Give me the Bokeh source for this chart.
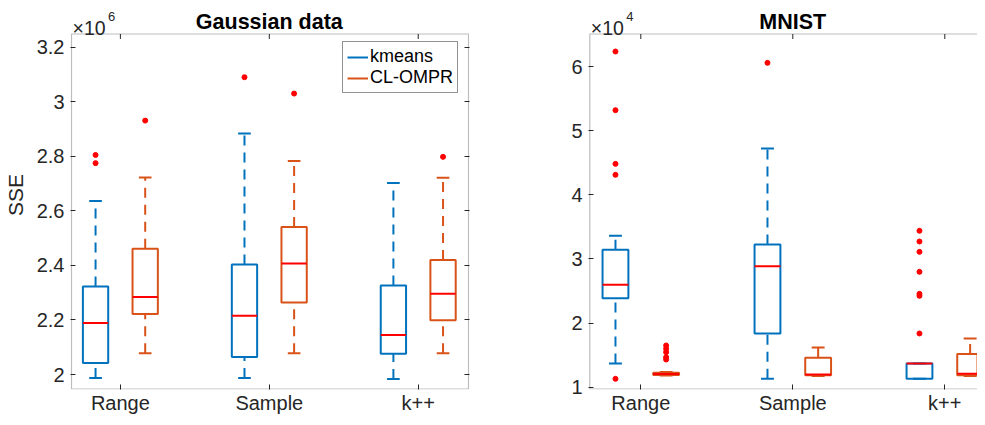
import math
from bokeh.plotting import figure
from bokeh.layouts import row
from bokeh.models import (ColumnDataSource, FixedTicker, LinearAxis, Range1d,
                          Label, Legend, LegendItem, BoxAnnotation)
from bokeh.transform import dodge
from bokeh.embed import file_html
from bokeh.resources import INLINE

# ---------------- data ----------------
GROUPS = ["Range", "Sample", "k++"]
GROUP_POS = [1, 2, 3]

# Gaussian data, SSE in units of 1e6
g_km_lo  = [1.987, 1.987, 1.984]
g_km_q1  = [2.042, 2.064, 2.076]
g_km_med = [2.189, 2.216, 2.145]
g_km_q3  = [2.323, 2.403, 2.326]
g_km_hi  = [2.636, 2.884, 2.702]
g_km_out_grp = [1, 1, 2]
g_km_out_val = [2.805, 2.775, 3.090]

g_cl_lo  = [2.078, 2.078, 2.078]
g_cl_q1  = [2.222, 2.264, 2.199]
g_cl_med = [2.284, 2.407, 2.296]
g_cl_q3  = [2.461, 2.541, 2.420]
g_cl_hi  = [2.722, 2.783, 2.721]
g_cl_out_grp = [1, 2, 3]
g_cl_out_val = [2.931, 3.030, 2.798]

G_YTICKS = [2.0, 2.2, 2.4, 2.6, 2.8, 3.0, 3.2]
G_YLABELS = ["2", "2.2", "2.4", "2.6", "2.8", "3", "3.2"]

# MNIST, SSE in units of 1e4
m_km_lo  = [1.369, 1.130, 1.130]
m_km_q1  = [2.388, 1.837, 1.130]
m_km_med = [2.596, 2.887, 1.369]
m_km_q3  = [3.141, 3.225, 1.369]
m_km_hi  = [3.360, 4.721, 1.369]
m_km_out_grp = [1, 1, 1, 1, 1, 2, 3, 3, 3, 3, 3, 3, 3]
m_km_out_val = [6.234, 5.319, 4.482, 4.311, 1.130, 6.057,
                3.438, 3.271, 3.110, 2.798, 2.455, 2.424, 1.837]

m_cl_lo  = [1.180, 1.175, 1.175]
m_cl_q1  = [1.190, 1.187, 1.187]
m_cl_med = [1.205, 1.198, 1.208]
m_cl_q3  = [1.225, 1.457, 1.515]
m_cl_hi  = [1.235, 1.618, 1.759]
m_cl_out_grp = [1, 1, 1, 1, 1]
m_cl_out_val = [1.650, 1.598, 1.546, 1.468, 1.431]

M_YTICKS = [1, 2, 3, 4, 5, 6]
M_YLABELS = ["1", "2", "3", "4", "5", "6"]

SERIES = ["kmeans", "CL-OMPR"]
COLORS = ["#0072BD", "#D95319"]
MEDIAN_COLOR = "#FF0000"
AX_COLOR = "#262626"
FONT = "Liberation Sans"

OFFSET = 1.0 / 6.0
BOX_W = 0.17
CAP_W = 0.085
FIG_H = 417


def style_axis(ax, ticks, labels, font_size="20px", standoff=6):
    ax.ticker = FixedTicker(ticks=ticks)
    ax.major_label_overrides = {t: l for t, l in zip(ticks, labels)}
    ax.major_tick_in = 5
    ax.major_tick_out = 0
    ax.minor_tick_line_color = None
    ax.axis_line_color = None
    ax.major_tick_line_color = AX_COLOR
    ax.major_label_text_font = FONT
    ax.major_label_text_font_size = font_size
    ax.major_label_text_color = AX_COLOR
    ax.major_label_standoff = standoff


def panel(width, border_left, border_right, x_range, y_range, box, title,
          yticks, ylabels, exp_text, series_data, ylabel=None,
          legend_loc=None, right_axis=True):
    p = figure(width=width, height=FIG_H, x_range=Range1d(*x_range),
               y_range=Range1d(*y_range), output_backend="svg",
               toolbar_location=None, min_border_left=border_left,
               min_border_right=border_right, min_border_top=0,
               min_border_bottom=28)
    p.outline_line_color = None
    p.xgrid.visible = False
    p.ygrid.visible = False
    box_l, box_r, box_b, box_t = box

    style_axis(p.xaxis[0], GROUP_POS, GROUPS, font_size="20px", standoff=2)
    style_axis(p.yaxis[0], yticks, ylabels, font_size="20px", standoff=6)
    if ylabel:
        p.yaxis[0].axis_label = ylabel
        p.yaxis[0].axis_label_text_font = FONT
        p.yaxis[0].axis_label_text_font_size = "21px"
        p.yaxis[0].axis_label_text_font_style = "normal"
        p.yaxis[0].axis_label_text_color = AX_COLOR
        p.yaxis[0].axis_label_standoff = 7

    if right_axis:
        rt = LinearAxis()
        style_axis(rt, yticks, ["" for _ in yticks], font_size="0px", standoff=0)
        p.add_layout(rt, "right")

    # axes box
    p.add_layout(BoxAnnotation(left=box_l, right=box_r, bottom=box_b, top=box_t,
                               fill_color=None, fill_alpha=0,
                               line_color=AX_COLOR, line_width=1.2))
    # top ticks (pointing inward)
    p.ray(x=GROUP_POS, y=[box_t] * len(GROUP_POS), length=5,
          length_units="screen", angle=-math.pi / 2, line_color=AX_COLOR,
          line_width=1)

    legend_items = []
    for (name, color, off, d) in zip(SERIES, COLORS, [-OFFSET, OFFSET], series_data):
        src = ColumnDataSource(dict(g=GROUP_POS, lo=d["lo"], q1=d["q1"],
                                    med=d["med"], q3=d["q3"], hi=d["hi"]))
        xc = dodge("g", off, range=p.x_range)
        # whiskers (dashed)
        p.segment(x0=xc, x1=xc, y0="q3", y1="hi", source=src, line_color=color,
                  line_width=2, line_dash="10 7")
        p.segment(x0=xc, x1=xc, y0="lo", y1="q1", source=src, line_color=color,
                  line_width=2, line_dash="10 7")
        # caps
        cap = p.segment(x0=dodge("g", off - CAP_W / 2, range=p.x_range),
                        x1=dodge("g", off + CAP_W / 2, range=p.x_range),
                        y0="hi", y1="hi", source=src, line_color=color, line_width=2)
        p.segment(x0=dodge("g", off - CAP_W / 2, range=p.x_range),
                  x1=dodge("g", off + CAP_W / 2, range=p.x_range),
                  y0="lo", y1="lo", source=src, line_color=color, line_width=2)
        # boxes
        p.vbar(x=xc, width=BOX_W, bottom="q1", top="q3", source=src,
               fill_color=None, line_color=color, line_width=2)
        # medians
        p.segment(x0=dodge("g", off - BOX_W / 2, range=p.x_range),
                  x1=dodge("g", off + BOX_W / 2, range=p.x_range),
                  y0="med", y1="med", source=src, line_color=MEDIAN_COLOR,
                  line_width=2)
        # outliers
        osrc = ColumnDataSource(dict(g=d["out_grp"], y=d["out_val"]))
        p.scatter(x=dodge("g", off, range=p.x_range), y="y", source=osrc,
                  size=5, fill_color=MEDIAN_COLOR, line_color=MEDIAN_COLOR)
        legend_items.append(LegendItem(label=name, renderers=[cap]))

    if legend_loc is not None:
        lg = Legend(items=legend_items, location=legend_loc)
        lg.label_text_font = FONT
        lg.label_text_font_size = "18px"
        lg.label_text_color = "#000000"
        lg.glyph_width = 21
        lg.glyph_height = 20
        lg.label_height = 20
        lg.label_standoff = 2
        lg.padding = 4
        lg.spacing = 0
        lg.margin = 0
        lg.border_line_color = AX_COLOR
        lg.border_line_width = 1
        lg.background_fill_alpha = 1.0
        p.add_layout(lg)

    # title
    p.add_layout(Label(x=GROUP_POS[1], y=box_t, text=title, text_align="center",
                       y_offset=12, text_baseline="alphabetic", text_font=FONT,
                       text_font_size="21.5px", text_font_style="bold",
                       text_color="#000000"))
    # exponent label (x10^n)
    base, sup = exp_text
    p.add_layout(Label(x=box_l, y=box_t, text=base, x_offset=1,
                       y_offset=6, text_baseline="alphabetic", text_font=FONT,
                       text_font_size="19.5px", text_color=AX_COLOR))
    p.add_layout(Label(x=box_l, y=box_t, text=sup, x_offset=36.5,
                       y_offset=17.5, text_baseline="alphabetic", text_font=FONT,
                       text_font_size="13px", text_color=AX_COLOR))
    return p


gauss = [
    dict(lo=g_km_lo, q1=g_km_q1, med=g_km_med, q3=g_km_q3, hi=g_km_hi,
         out_grp=g_km_out_grp, out_val=g_km_out_val),
    dict(lo=g_cl_lo, q1=g_cl_q1, med=g_cl_med, q3=g_cl_q3, hi=g_cl_hi,
         out_grp=g_cl_out_grp, out_val=g_cl_out_val),
]
mnist = [
    dict(lo=m_km_lo, q1=m_km_q1, med=m_km_med, q3=m_km_q3, hi=m_km_hi,
         out_grp=m_km_out_grp, out_val=m_km_out_val),
    dict(lo=m_cl_lo, q1=m_cl_q1, med=m_cl_med, q3=m_cl_q3, hi=m_cl_hi,
         out_grp=m_cl_out_grp, out_val=m_cl_out_val),
]

# view windows (frame spans the full height so that title and exponent fit)
G_XR = (0.6651, 3.3443)
G_YR = (1.9452, 3.3712)
G_BOX = (0.6718, 3.3377, 1.9471, 3.2484)
M_XR = (0.6559, 3.2151)
M_YR = (0.9633, 7.0292)
M_BOX = (0.6645, 3.30, 0.9711, 6.5068)

p1 = panel(500, 69, 31, G_XR, G_YR, G_BOX, "Gaussian data",
           G_YTICKS, G_YLABELS, ("×10", "6"), gauss, ylabel="SSE",
           legend_loc=(272, 296))
p2 = panel(477, 88, 0, M_XR, M_YR, M_BOX, "MNIST",
           M_YTICKS, M_YLABELS, ("×10", "4"), mnist, right_axis=False)

layout = row(p1, p2)
open("out.html", "w").write(file_html(layout, INLINE))
